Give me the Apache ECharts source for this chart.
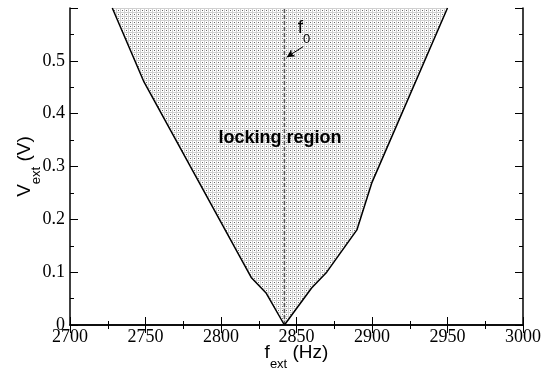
<!DOCTYPE html>
<html><head><meta charset="utf-8">
<script src="https://cdn.jsdelivr.net/npm/echarts@6/dist/echarts.min.js"></script>
<style>html,body{margin:0;padding:0;background:#fff}#c{width:548px;height:371px}</style>
</head><body><div id="c"></div>
<script>
// Data
var leftF = [2728, 2749, 2820, 2830, 2842];
var leftV = [0.6, 0.46, 0.09, 0.06, 0];
var rightF = [2842, 2860, 2870, 2890, 2900, 2950];
var rightV = [0, 0.07, 0.10, 0.18, 0.27, 0.6];
var f0 = 2842;
var xTicks = [2700, 2750, 2800, 2850, 2900, 2950, 3000];
var yTicks = [0, 0.1, 0.2, 0.3, 0.4, 0.5];
var regionLabel = 'locking region';

// pattern
var pc = document.createElement('canvas');
pc.width = 4; pc.height = 4;
var g = pc.getContext('2d');
g.fillStyle = '#ffffff'; g.fillRect(0,0,4,4);
g.fillStyle = '#d0d0d0'; g.fillRect(0,0,4,1); g.fillRect(0,0,1,4);
g.fillStyle = '#666666'; g.fillRect(2,2,1,1);
var pattern = {image: pc, repeat: 'repeat'};

var leftPts = leftF.map(function(f,i){return [f, leftV[i]];});
var rightPts = rightF.map(function(f,i){return [f, rightV[i]];});
var polyPts = leftPts.concat(rightPts.slice(1));

var richSub = {
  a:{fontFamily:'Liberation Sans', fontSize:19, color:'#000', lineHeight:22, verticalAlign:'top'},
  b:{fontFamily:'Liberation Sans', fontSize:13, color:'#000', lineHeight:28, verticalAlign:'bottom'}};
var tickFont = {color:'#000', fontFamily:'"Liberation Serif", "Times New Roman", Times, serif', fontSize:18};
var chart = echarts.init(document.getElementById('c'), null, {renderer:'canvas'});
chart.setOption({
  animation:false,
  grid:{left:70, right:25, top:8, bottom:46, outerBoundsMode:'none', containLabel:false},
  xAxis:[{
    type:'value', min:2700, max:3000, interval:50,
    axisLine:{lineStyle:{color:'#000', width:1.5}},
    axisTick:{inside:true, length:8, lineStyle:{color:'#000'}},
    minorTick:{show:true, splitNumber:2, length:4, lineStyle:{color:'#000'}},
    splitLine:{show:false},
    axisLabel:Object.assign({margin:3, formatter:function(v){return xTicks.indexOf(v)>=0?String(v):'';}}, tickFont),
    name:'{a|f}{b|ext}{a| (Hz)}', nameLocation:'middle', nameGap:18, nameMoveOverlap:false,
    nameTextStyle:{rich:richSub}
  },{
    type:'value', position:'top', min:2700, max:3000, interval:50,
    axisLine:{lineStyle:{color:'#000', width:1.5}},
    axisTick:{inside:true, length:8, lineStyle:{color:'#000'}},
    minorTick:{show:true, splitNumber:2, length:4, lineStyle:{color:'#000'}},
    splitLine:{show:false}, axisLabel:{show:false}
  }],
  yAxis:[{
    type:'value', min:0, max:0.6, interval:0.1,
    axisLine:{lineStyle:{color:'#000', width:1.5}},
    axisTick:{inside:true, length:8, lineStyle:{color:'#000'}},
    minorTick:{show:true, splitNumber:2, length:4, lineStyle:{color:'#000'}},
    splitLine:{show:false},
    axisLabel:Object.assign({margin:5, formatter:function(v){
      for (var i=0;i<yTicks.length;i++){ if (Math.abs(yTicks[i]-v)<1e-9) return String(yTicks[i]); }
      return '';}}, tickFont),
    name:'{a|V}{b|ext}{a| (V)}', nameLocation:'middle', nameGap:27, nameRotate:90, nameMoveOverlap:false,
    nameTextStyle:{rich:richSub}
  },{
    type:'value', position:'right', min:0, max:0.6, interval:0.1,
    axisLine:{lineStyle:{color:'#000', width:1.5}},
    axisTick:{inside:true, length:8, lineStyle:{color:'#000'}},
    minorTick:{show:true, splitNumber:2, length:4, lineStyle:{color:'#000'}},
    splitLine:{show:false}, axisLabel:{show:false}
  }],
  series:[
    {type:'custom', z:1, clip:true, data:[0],
     renderItem:function(params, api){
       var pts = polyPts.map(function(p){return api.coord(p);});
       return {type:'polygon', shape:{points:pts}, style:{fill:pattern, stroke:null}};
     }},
    {type:'line', z:3, data:leftPts, symbol:'none', lineStyle:{color:'#000', width:1.5}},
    {type:'line', z:3, data:rightPts, symbol:'none', lineStyle:{color:'#000', width:1.5}},
    {type:'line', z:2, data:[[f0,0],[f0,0.6]], symbol:'none',
     lineStyle:{color:'#555', width:1.5, type:[4,2]},
     markLine:{silent:true, symbol:['none','arrow'], symbolSize:[6,8],
       lineStyle:{color:'#000', width:1, type:'solid'}, label:{show:false},
       data:[[{coord:[2854.5,0.527]},{coord:[2843.5,0.507]}]]},
     markPoint:{symbol:'circle', symbolSize:0, data:[
       {coord:[2855,0.555], label:{show:true, formatter:'{a|f}{b|0}', rich:richSub}},
       {coord:[2839,0.354], label:{show:true, formatter:regionLabel,
         fontFamily:'Liberation Sans', fontWeight:'bold', fontSize:18, color:'#000'}}
     ]}}
  ]
});
</script></body></html>
